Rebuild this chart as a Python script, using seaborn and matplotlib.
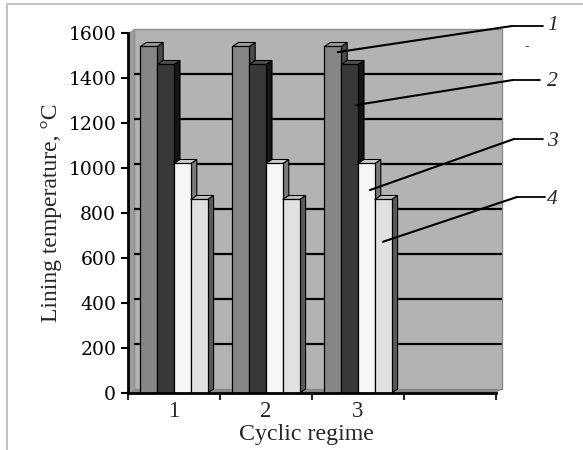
import numpy as np
import pandas as pd
import seaborn as sns
import matplotlib
matplotlib.use("Agg")
import matplotlib.pyplot as plt
from matplotlib.patches import Polygon, Rectangle
from matplotlib.lines import Line2D

# ---- data ----
regimes = ["1", "2", "3"]
series = ["1", "2", "3", "4"]
s1 = [1540, 1540, 1540]
s2 = [1460, 1460, 1460]
s3 = [1020, 1020, 1020]
s4 = [860, 860, 860]
yticks = [0, 200, 400, 600, 800, 1000, 1200, 1400, 1600]

front_colors = ["#868686", "#383838", "#f6f6f6", "#e2e2e2"]
side_colors = ["#4a4a4a", "#141414", "#7a7a7a", "#5a5a5a"]
top_colors = ["#a0a0a0", "#505050", "#d4d4d4", "#c4c4c4"]

df = pd.DataFrame({
    "regime": regimes * 4,
    "series": sum([[s] * 3 for s in series], []),
    "temp": s1 + s2 + s3 + s4,
})

sns.set_theme(style="white")
W, H = 583, 450
fig = plt.figure(figsize=(W / 100, H / 100), dpi=100)
ax = fig.add_axes([128 / W, (H - 393) / H, 368 / W, 360 / H])

sns.barplot(data=df, x="regime", y="temp", hue="series", order=regimes,
            hue_order=series, palette=front_colors, width=0.73, gap=0,
            saturation=1, edgecolor="black", linewidth=0.9, legend=False,
            ax=ax, zorder=3)

ax.set_xlim(-0.5, 3.5)
ax.set_ylim(0, 1600)
ax.set_facecolor("none")

# depth offsets (data units): ~6 px right, ~4 px up
dx = 6 / 92.0
dy = 4 * 1600 / 360.0

# back wall, left wall and floor
ax.add_patch(Rectangle((-0.5 + dx, dy), 4.0, 1600, facecolor="#b3b3b3",
                       edgecolor="#8c8c8c", lw=1.0, zorder=0.5, clip_on=False))
ax.add_patch(Polygon([(-0.5, 0), (-0.5 + dx, dy), (-0.5 + dx, 1600 + dy), (-0.5, 1600)],
                     closed=True, facecolor="#9c9c9c", edgecolor="none", zorder=0.6, clip_on=False))
ax.add_patch(Polygon([(-0.5, 0), (3.5, 0), (3.5 + dx, dy), (-0.5 + dx, dy)],
                     closed=True, facecolor="#8a8a8a", edgecolor="none", zorder=0.6, clip_on=False))
for v in yticks[1:-1]:
    ax.plot([-0.5 + dx, 3.5 + dx], [v + dy, v + dy], color="black", lw=1.6,
            zorder=0.8, solid_capstyle="butt", clip_on=False)

# 3D faces for each bar
for i, cont in enumerate(ax.containers):
    for p in cont.patches:
        x0, w, h = p.get_x(), p.get_width(), p.get_height()
        p.set_zorder(3 + 2 * i + 1)
        side = Polygon([(x0 + w, 0), (x0 + w + dx, dy), (x0 + w + dx, h + dy), (x0 + w, h)],
                       closed=True, facecolor=side_colors[i], edgecolor="black",
                       lw=0.8, zorder=3 + 2 * i)
        top = Polygon([(x0, h), (x0 + dx, h + dy), (x0 + w + dx, h + dy), (x0 + w, h)],
                      closed=True, facecolor=top_colors[i], edgecolor="black",
                      lw=0.8, zorder=3 + 2 * i)
        ax.add_patch(side)
        ax.add_patch(top)

# axes styling
for s in ["top", "right"]:
    ax.spines[s].set_visible(False)
for s in ["left", "bottom"]:
    ax.spines[s].set_color("black")
    ax.spines[s].set_linewidth(2.0)
    ax.spines[s].set_zorder(20)

ax.set_yticks(yticks)
ax.set_yticklabels([str(v) for v in yticks], fontfamily="DejaVu Serif", fontsize=13.5)
ax.tick_params(axis="y", direction="out", length=5, width=1.5, pad=3.5, left=True, colors="black")

ax.set_xticks([0, 1, 2])
ax.set_xticklabels(regimes, fontfamily="Liberation Serif", fontsize=16.5)
ax.set_xticks([-0.5, 0.5, 1.5, 2.5, 3.5], minor=True)
ax.tick_params(axis="x", which="major", length=0, pad=5.5, bottom=True)
ax.tick_params(axis="x", which="minor", direction="out", length=5, width=1.5, bottom=True)

ax.set_xlabel("Cyclic regime", fontfamily="Liberation Serif", fontsize=17.2)
ax.xaxis.set_label_coords(0.486, -0.086)
ax.set_ylabel("Lining temperature, °C", fontfamily="Liberation Serif", fontsize=17)
ax.yaxis.set_label_coords(-0.18, 0.5)

# leader labels for the series
def fx(px):
    return px / W

def fy(py):
    return 1 - py / H

label_pos = [(553, 26), (552, 81), (552, 141), (552, 199)]
knees = [(512, 543, 26), (513, 540, 80), (514, 543, 139), (517, 545, 197)]
targets = [(1.78, 1515), (1.98, 1280), (2.13, 902), (2.27, 672)]
for lab, (tx, ty), (k0, k1, ky), (ex, ey) in zip(series, label_pos, knees, targets):
    fig.text(fx(tx), fy(ty), lab, ha="center", va="center", fontsize=15.5,
             fontfamily="Liberation Serif", fontstyle="italic")
    fig.add_artist(Line2D([fx(k0), fx(k1)], [fy(ky), fy(ky)], color="black", lw=1.3))
    ax.annotate("", xy=(ex, ey), xycoords="data", xytext=(fx(k0), fy(ky)),
                textcoords="figure fraction", annotation_clip=False,
                arrowprops=dict(arrowstyle="-", color="black", lw=1.5,
                                shrinkA=0, shrinkB=0), zorder=30)

fig.text(fx(527), fy(47), "-", ha="center", va="center", fontsize=9, color="#444444")

# figure frame
fig.add_artist(Line2D([fx(7), fx(7)], [fy(4), 0], color="#c4c4c4", lw=1.5))
fig.add_artist(Line2D([fx(7), 1], [fy(4), fy(4)], color="#c4c4c4", lw=1.5))

fig.savefig("out.png", dpi=100)
